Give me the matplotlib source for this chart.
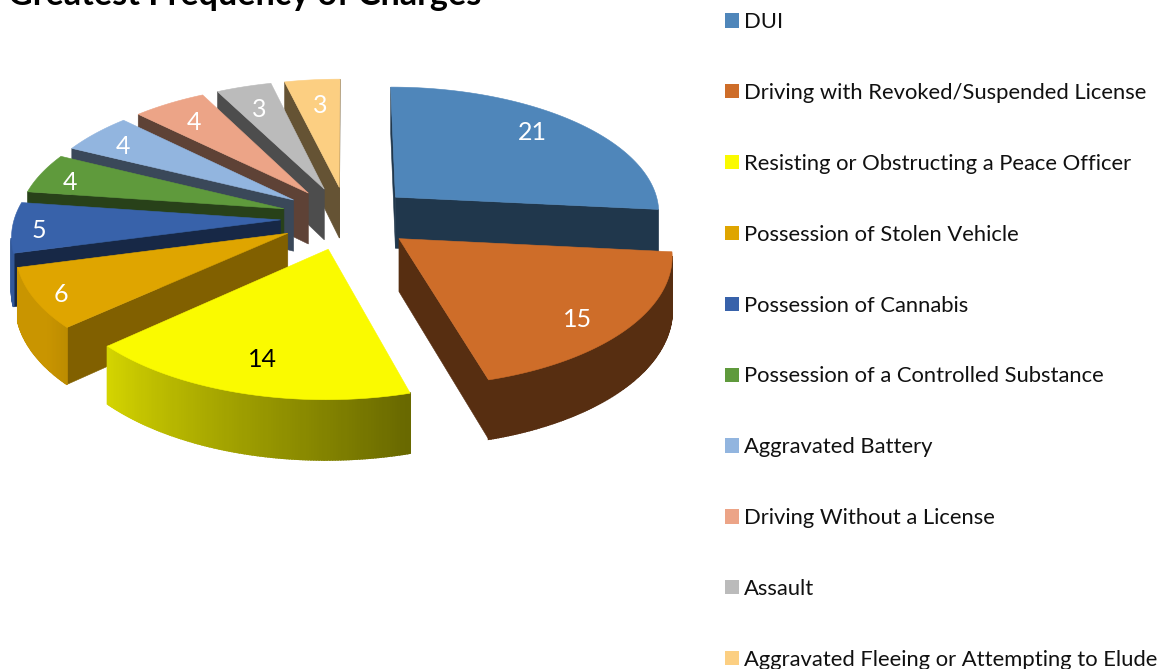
import numpy as np
import matplotlib
matplotlib.use("Agg")
import matplotlib.pyplot as plt
from matplotlib.patches import Polygon, Patch

#Data
charges = ["DUI", "Driving with Revoked/Suspended License",
           "Resisting or Obstructing a Peace Officer", "Possession of Stolen Vehicle",
           "Possession of Cannabis", "Possession of a Controlled Substance",
           "Aggravated Battery", "Driving Without a License", "Assault",
           "Aggravated Fleeing or Attempting to Elude"]
counts = [21, 15, 14, 6, 5, 4, 4, 4, 3, 3]

#Styles
colors = ["#4F86BA", "#CE6D29", "#FAFA00", "#DFA500", "#3862AA",
          "#5F9A3C", "#92B5DF", "#ECA487", "#BBBBBB", "#FCCF82"]
cut_shade = [.41, .42, .42, .58, .41, .42, .40, .40, .41, .40]
label_colors = ["white", "white", "black"] + ["white"]*7
label_r = [.80, .837, .784, .907, .90, .863, .831, .788, .764, .742]
label_da = [-2.8, 3.8, 0, -1, -2, -2.8, -2.1, -.9, -.8, .4]
draw_order = [9, 8, 7, 6, 5, 4, 0, 3, 1, 2]

#Projection of the pie, in pixels
cx, cy = 347, 218
rx, a, k = 266, 126.5, .11
explode = .25
depth = 52

plt.rcParams["font.family"] = ["Lato", "DejaVu Sans"]
W, H = 1162, 669
fig = plt.figure(figsize=(W/100, H/100), dpi=100)
ax = fig.add_axes([0, 0, 1, 1])
ax.set_xlim(0, W)
ax.set_ylim(H, 0)
ax.axis("off")


def project(X, V, z=0.0):
    s = 1/(1 - k*V)
    return np.column_stack([cx + rx*X*s, cy + a*V*s + depth*z*s])


def shade(c, f):
    return tuple(np.array(matplotlib.colors.to_rgb(c))*f)


def wall_factor(theta):
    #walls get lighter going round from the front right to the left
    return np.clip(.42 + .43*(theta - 165)/63, .42, .9)


def facing(p):
    x, y = p[:, 0], p[:, 1]
    return np.sum(x*np.roll(y, -1) - np.roll(x, -1)*y) < 0


def add_face(p, color, zorder, lw=.4):
    ax.add_patch(Polygon(p, closed=True, fc=color, ec=color, lw=lw, zorder=zorder))


edges = np.concatenate([[0], np.cumsum(counts)])/sum(counts)*360
z = 1
for i in draw_order:
    t0, t1 = edges[i], edges[i+1]
    mid = np.radians((t0 + t1)/2)
    ox, ov = explode*np.sin(mid), -explode*np.cos(mid)
    th = np.radians(np.linspace(t0, t1, max(int(t1 - t0), 2)*2 + 1))
    X, V = ox + np.sin(th), ov - np.cos(th)
    top = project(X, V)
    bot = project(X, V, 1)
    apex = project(np.array([ox]), np.array([ov]))
    apex_b = project(np.array([ox]), np.array([ov]), 1)

    #cut faces first, then the outer wall, then the top
    start = np.vstack([apex, top[0], bot[0], apex_b])
    end = np.vstack([top[-1], apex, apex_b, bot[-1]])
    for face in (start, end):
        if facing(face):
            add_face(face, shade(colors[i], cut_shade[i]), z)
            z += 1
    for j in range(len(th) - 1):
        quad = np.vstack([top[j], top[j+1], bot[j+1], bot[j]])
        if facing(quad):
            f = wall_factor(np.degrees((th[j] + th[j+1])/2))
            add_face(quad, shade(colors[i], f), z, lw=1.2)
            z += 1
    add_face(np.vstack([apex, top]), colors[i], z)
    z += 1

#Data labels
for i, c in enumerate(counts):
    t = np.radians((edges[i] + edges[i+1])/2)
    ox, ov = explode*np.sin(t), -explode*np.cos(t)
    t2 = t + np.radians(label_da[i])
    p = project(np.array([ox + label_r[i]*np.sin(t2)]), np.array([ov - label_r[i]*np.cos(t2)]))[0]
    ax.text(p[0], p[1], str(c), color=label_colors[i], fontsize=18, ha="center",
            va="center", zorder=z + 1)

#Title, cut by the top of the picture as in the original
ax.text(8, 5, "Greatest Frequency of Charges", fontsize=24.6, fontweight="bold",
        color="black", ha="left", va="baseline")

#Legend
handles = [Patch(fc=c, ec=c, lw=0) for c in colors]
leg = ax.legend(handles, charges, loc="center left", bbox_to_anchor=(725, 341),
                bbox_transform=ax.transData, frameon=False, fontsize=15.85, borderpad=0,
                borderaxespad=0, labelspacing=2.31, handlelength=.62, handleheight=.62,
                handletextpad=.25, labelcolor="#111111")

fig.savefig("out.png", dpi=100)
